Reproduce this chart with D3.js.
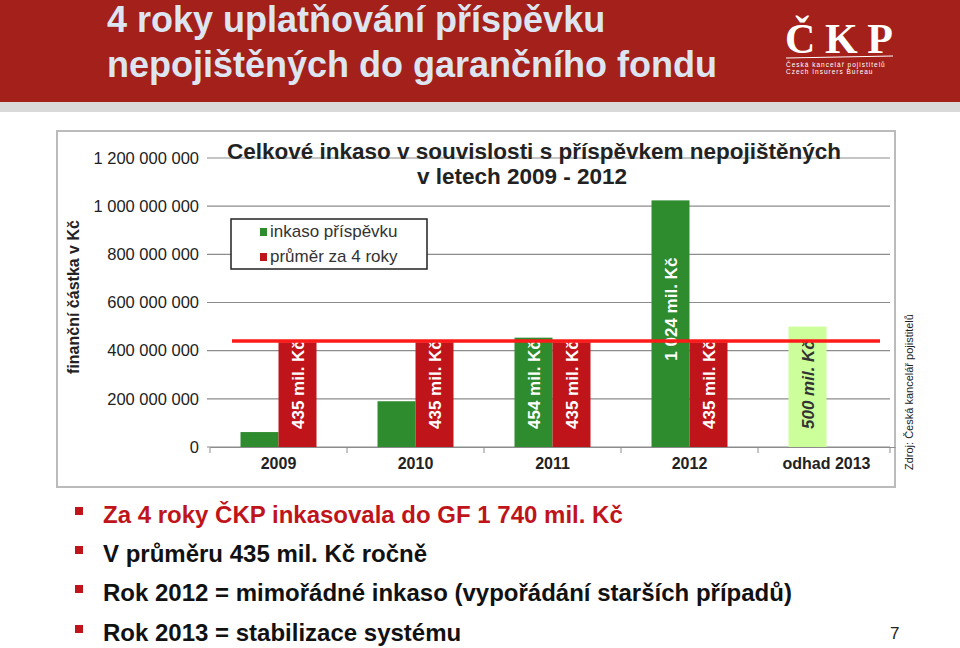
<!DOCTYPE html>
<html><head><meta charset="utf-8">
<script src="https://cdn.jsdelivr.net/npm/d3@7"></script>
<style>body{margin:0;background:#fff}svg{font-family:"Liberation Sans",Arial,sans-serif}</style>
</head><body>
<svg id="slide" width="960" height="648"></svg>
<script>
// chart values (Kč)
var years = ["2009", "2010", "2011", "2012", "odhad 2013"];
var collected = [62000000, 190000000, 454000000, 1024000000, 500000000];
var collectedLabels = ["", "", "454 mil. Kč", "1 024 mil. Kč", "500 mil. Kč"];
var average = [435000000, 435000000, 435000000, 435000000, null];
var yTicks = [0, 200000000, 400000000, 600000000, 800000000, 1000000000, 1200000000];
var bullets = [
    "Za 4 roky ČKP inkasovala do GF 1 740 mil. Kč",
    "V průměru 435 mil. Kč ročně",
    "Rok 2012 = mimořádné inkaso (vypořádání starších případů)",
    "Rok 2013 = stabilizace systému"
];

var svg = d3.select("#slide");

// header
svg.append("rect").attr("width", 960).attr("height", 102).attr("fill", "#a3201b");
svg.append("rect").attr("y", 102).attr("width", 960).attr("height", 10).attr("fill", "#d9d9d9");
svg.append("text").attr("x", 107).attr("y", 32).attr("fill", "#dde5f1").style("font-weight", "bold")
    .style("font-size", "36px").text("4 roky uplatňování příspěvku");
svg.append("text").attr("x", 107).attr("y", 77).attr("fill", "#dde5f1").style("font-weight", "bold")
    .style("font-size", "36px").text("nepojištěných do garančního fondu");
// logo
svg.append("text").attr("x", 785).attr("y", 53).attr("fill", "#fff")
    .style("font-family", "Liberation Serif").style("font-weight", "bold")
    .style("font-size", "42px").attr("textLength", 108).text("ČKP");
svg.append("line").attr("x1", 786).attr("x2", 893).attr("y1", 58).attr("y2", 56)
    .attr("stroke", "#fff").attr("stroke-width", 1);
svg.append("text").attr("x", 786).attr("y", 67).attr("fill", "#fff")
    .style("font-size", "6.5px").style("letter-spacing", "1px").text("Česká kancelář pojistitelů");
svg.append("text").attr("x", 786).attr("y", 74).attr("fill", "#fff")
    .style("font-size", "6.5px").style("letter-spacing", "1px").text("Czech Insurers Bureau");

// chart frame
svg.append("rect").attr("x", 57).attr("y", 131).attr("width", 838).attr("height", 356)
    .attr("fill", "#fff").attr("stroke", "#bbb").attr("stroke-width", 2);

var pLeft = 210, pRight = 895, pTop = 158, pBottom = 447;
var x = d3.scaleBand().domain(years).range([pLeft, pRight]);
var y = d3.scaleLinear().domain([0, 1200000000]).range([pBottom, pTop]);

var g = svg.append("g");
g.selectAll(".grid").data(yTicks).enter().append("line")
    .attr("x1", pLeft - 3).attr("x2", pRight - 5)
    .attr("y1", d => y(d)).attr("y2", d => y(d))
    .attr("stroke", "#8c8c8c").attr("stroke-width", 1.2);

var yAxis = d3.axisLeft(y).tickValues(yTicks).tickSize(0).tickPadding(11)
    .tickFormat(d => d3.format(",")(d).replace(/,/g, " "));
var ya = g.append("g").attr("transform", "translate(" + pLeft + ",0)").call(yAxis);
ya.select(".domain").remove();
ya.selectAll("text").style("font-size", "16.5px").attr("fill", "#222");

var xa = g.append("g").attr("transform", "translate(0," + pBottom + ")")
    .call(d3.axisBottom(x).tickSize(0).tickPadding(11));
xa.select(".domain").attr("stroke", "#8c8c8c");
xa.selectAll("text").style("font-size", "16px").style("font-weight", "bold").attr("fill", "#222");
years.concat([""]).forEach(function(d, i) {
    var xx = i < years.length ? x(d) : pRight - 5;
    g.append("line").attr("x1", xx).attr("x2", xx).attr("y1", pBottom).attr("y2", pBottom + 6)
        .attr("stroke", "#8c8c8c");
});

var bw = 38;
var off = x.bandwidth() / 2 - bw;
function greenX(d) { return x(d) + off; }
g.selectAll(".green").data(years).enter().append("rect")
    .attr("x", greenX)
    .attr("width", bw)
    .attr("y", (d, i) => y(collected[i]))
    .attr("height", (d, i) => pBottom - y(collected[i]))
    .attr("fill", (d, i) => i === 4 ? "#ccff99" : "#2e8b2e");
g.selectAll(".red").data(years.filter((d, i) => average[i] != null)).enter().append("rect")
    .attr("x", d => x(d) + off + bw)
    .attr("width", bw)
    .attr("y", (d, i) => y(average[i]))
    .attr("height", (d, i) => pBottom - y(average[i]))
    .attr("fill", "#c0141b");

function vlabel(cx, yBase, txt, color, italic) {
    g.append("text").attr("transform", "translate(" + (cx + 6) + "," + yBase + ") rotate(-90)")
        .attr("fill", color).style("font-size", "17px").style("font-weight", "bold")
        .style("font-style", italic ? "italic" : "normal").text(txt);
}
years.forEach(function(d, i) {
    if (average[i] != null) vlabel(x(d) + off + bw * 1.5, pBottom - 18, "435 mil. Kč", "#fff");
    if (collectedLabels[i]) {
        var cx = greenX(d) + bw / 2;
        vlabel(cx, i === 3 ? y(400000000) + 10 : pBottom - 18, collectedLabels[i], i === 4 ? "#333" : "#fff", i === 4);
    }
});

// average line
g.append("line").attr("x1", 232).attr("x2", 880)
    .attr("y1", y(440000000)).attr("y2", y(440000000))
    .attr("stroke", "#ff1a1a").attr("stroke-width", 3.5);

// titles
svg.append("text").attr("x", 534).attr("y", 159).attr("text-anchor", "middle")
    .style("font-size", "22.5px").style("font-weight", "bold").attr("fill", "#222")
    .text("Celkové inkaso v souvislosti s příspěvkem nepojištěných");
svg.append("text").attr("x", 522).attr("y", 184).attr("text-anchor", "middle")
    .style("font-size", "22.5px").style("font-weight", "bold").attr("fill", "#222")
    .text("v letech 2009  - 2012");
svg.append("text").attr("transform", "translate(79,297) rotate(-90)").attr("text-anchor", "middle")
    .style("font-size", "16px").style("font-weight", "bold").attr("fill", "#222")
    .text("finanční částka v Kč");

// legend
var lg = svg.append("g").attr("transform", "translate(231,219)");
lg.append("rect").attr("width", 196).attr("height", 50).attr("fill", "#fff").attr("stroke", "#222").attr("stroke-width", 1.5);
[["inkaso příspěvku", "#2e8b2e"], ["průměr za 4 roky", "#c0141b"]].forEach(function(d, i) {
    lg.append("rect").attr("x", 29).attr("y", 9 + i * 25).attr("width", 7).attr("height", 8).attr("fill", d[1]);
    lg.append("text").attr("x", 39).attr("y", 18 + i * 25).style("font-size", "17px").attr("fill", "#333").text(d[0]);
});

// source
svg.append("text").attr("transform", "translate(913,470) rotate(-90)")
    .style("font-size", "11px").attr("fill", "#222").text("Zdroj: Česká kancelář pojistitelů");

// bullets
var by = [523, 562, 601, 641];
bullets.forEach(function(b, i) {
    svg.append("rect").attr("x", 75).attr("y", by[i] - 16).attr("width", 8).attr("height", 8).attr("fill", "#c0141b");
    svg.append("text").attr("x", 103).attr("y", by[i]).style("font-size", "24px")
        .attr("fill", i === 0 ? "#c0141b" : "#111")
        .style("font-weight", "bold").text(b);
});
svg.append("text").attr("x", 890).attr("y", 639).style("font-size", "17px").attr("fill", "#222").text("7");
</script>
</body></html>
